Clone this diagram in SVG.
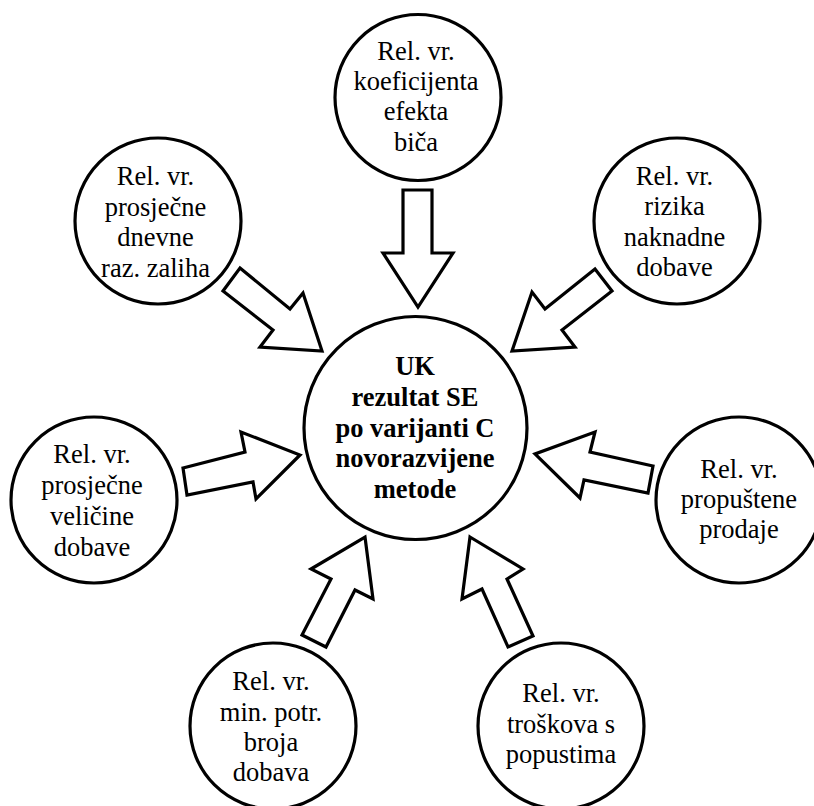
<svg xmlns="http://www.w3.org/2000/svg" width="814" height="806" viewBox="0 0 814 806">
<style>
.c{fill:#fff;stroke:#000;stroke-width:3.2}
.a{fill:#fff;stroke:#000;stroke-width:3.2;stroke-linejoin:miter}
text{font-family:'Liberation Serif','Times New Roman','DejaVu Serif',serif;font-size:26.5px;fill:#000;text-anchor:middle}
.b{font-weight:bold}
</style>
<rect width="814" height="806" fill="#fff"/>
<g id="connectors">
<polygon class="a" points="403,190 432,190 432,253 453,253 418,307 383,253 403,253"/>
<polygon class="a" points="240,268 290,309 303,293 322,351 260,347 273,330 223,291"/>
<polygon class="a" points="595,269 545,309 532,292 512,351 575,347 562,330 612,291"/>
<polygon class="a" points="183,468 245,452 241,432 300,455 256,499 253,482 187,495"/>
<polygon class="a" points="653,466 590,452 595,432 535,454 580,498 584,480 648,493"/>
<polygon class="a" points="365,537 373,599 355,590 326,647 302,635 331,579 311,569"/>
<polygon class="a" points="470,537 523,569 507,579 533,636 508,647 482,589 462,599"/>
</g>
<g id="center" font-family="Liberation Serif">
<circle class="c" cx="415.5" cy="428" r="111.5"/>
<text class="b" x="415" y="375">UK</text>
<text class="b" x="415" y="406">rezultat SE</text>
<text class="b" x="415" y="437">po varijanti C</text>
<text class="b" x="415" y="467">novorazvijene</text>
<text class="b" x="415" y="498">metode</text>
</g>
<g id="n-top">
<circle class="c" cx="418" cy="97.5" r="83"/>
<text x="416" y="60">Rel. vr.</text>
<text x="416" y="90">koeficijenta</text>
<text x="416" y="120">efekta</text>
<text x="416" y="150.5">biča</text>
</g>
<g id="n-topleft">
<circle class="c" cx="158" cy="221" r="83"/>
<text x="155.5" y="185">Rel. vr.</text>
<text x="155.5" y="215.5">prosječne</text>
<text x="155.5" y="246">dnevne</text>
<text x="155.5" y="276.5">raz. zaliha</text>
</g>
<g id="n-topright">
<circle class="c" cx="677" cy="221" r="83"/>
<text x="674.5" y="184.5">Rel. vr.</text>
<text x="674.5" y="215">rizika</text>
<text x="674.5" y="245.5">naknadne</text>
<text x="674.5" y="276">dobave</text>
</g>
<g id="n-left">
<circle class="c" cx="94" cy="500" r="83"/>
<text x="92" y="463">Rel. vr.</text>
<text x="92" y="493.5">prosječne</text>
<text x="92" y="524.5">veličine</text>
<text x="92" y="555.5">dobave</text>
</g>
<g id="n-right">
<circle class="c" cx="739" cy="500" r="83"/>
<text x="739" y="478">Rel. vr.</text>
<text x="739" y="508">propuštene</text>
<text x="739" y="538">prodaje</text>
</g>
<g id="n-bottomleft">
<circle class="c" cx="273" cy="726" r="83"/>
<text x="271" y="690">Rel. vr.</text>
<text x="271" y="720.5">min. potr.</text>
<text x="271" y="750.5">broja</text>
<text x="271" y="781">dobava</text>
</g>
<g id="n-bottomright">
<circle class="c" cx="561" cy="726" r="83"/>
<text x="561" y="702">Rel. vr.</text>
<text x="561" y="732.5">troškova s</text>
<text x="561" y="763">popustima</text>
</g>
</svg>
